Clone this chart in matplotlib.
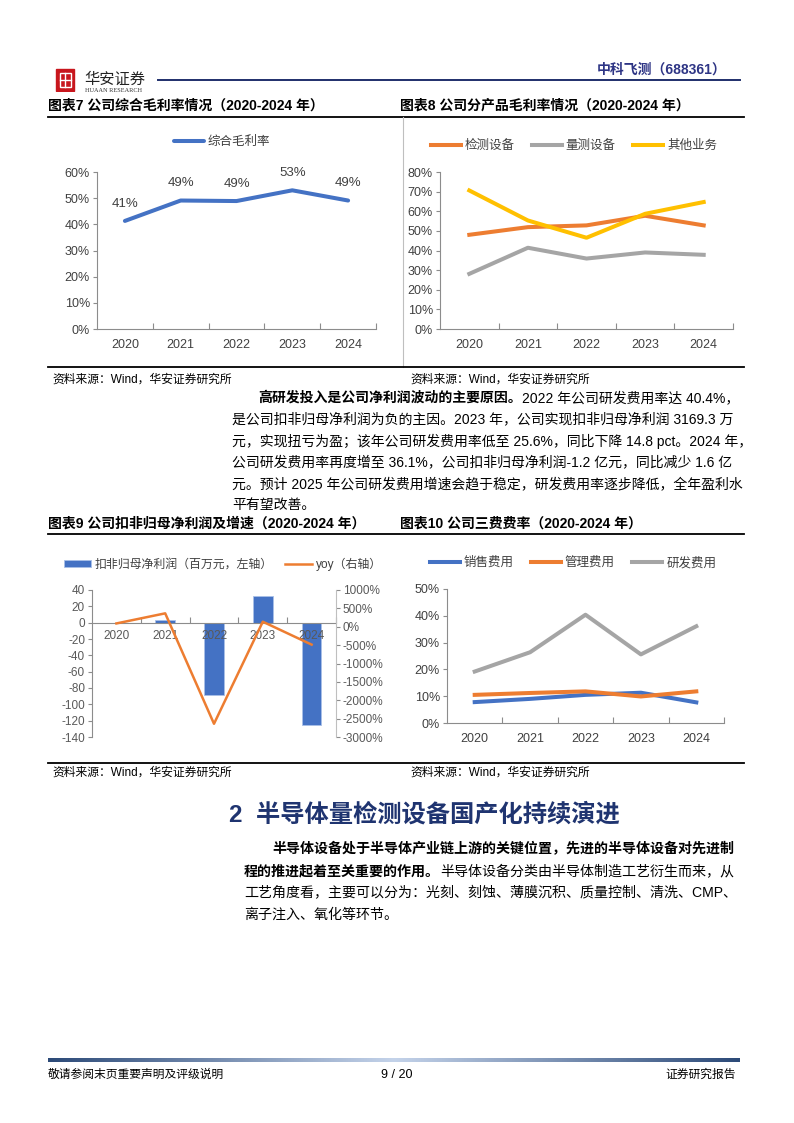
import numpy as np
import matplotlib
matplotlib.use('Agg')
import matplotlib.pyplot as plt
from matplotlib.colors import LinearSegmentedColormap
from matplotlib.patches import Rectangle

plt.rcParams['font.family'] = ['Liberation Sans', 'Noto Sans CJK SC']
plt.rcParams['axes.unicode_minus'] = False

# ---- data ----
years = ['2020', '2021', '2022', '2023', '2024']
gross_margin = [0.413, 0.491, 0.489, 0.530, 0.491]
gross_labels = ['41%', '49%', '49%', '53%', '49%']

product_names = ['检测设备', '量测设备', '其他业务']
inspect_margin = [0.480, 0.519, 0.528, 0.577, 0.528]
metrology_margin = [0.281, 0.414, 0.359, 0.390, 0.378]
other_margin = [0.706, 0.553, 0.465, 0.587, 0.647]

net_profit = [-1.0, 3.0, -88.3, 32.3, -124.7]      # 百万元
net_profit_yoy = [90, 365, -2640, 137, -486]        # %
profit_ticks = [40, 20, 0, -20, -40, -60, -80, -100, -120, -140]
yoy_ticks = [1000, 500, 0, -500, -1000, -1500, -2000, -2500, -3000]

fee_names = ['销售费用', '管理费用', '研发费用']
sales_fee = [0.078, 0.090, 0.105, 0.113, 0.077]
admin_fee = [0.105, 0.112, 0.118, 0.099, 0.118]
rd_fee = [0.192, 0.264, 0.404, 0.256, 0.361]

BLUE, ORANGE, GRAY, GOLD = '#4472C4', '#ED7D31', '#A5A5A5', '#FFC000'
TXT = '#404040'
SPINE = '#8C8C8C'

W, H = 794, 1123
fig = plt.figure(figsize=(W / 100, H / 100), dpi=100)


def fx(x):
    return x / W


def fy(y):
    return 1 - y / H


def add_ax(l, t, r, b):
    return fig.add_axes([fx(l), fy(b), (r - l) / W, (b - t) / H])


def hline(x0, x1, y, color='black', lw=1.0):
    fig.add_artist(plt.Line2D([fx(x0), fx(x1)], [fy(y), fy(y)], color=color, lw=lw))


def vline(x, y0, y1, color='black', lw=1.0):
    fig.add_artist(plt.Line2D([fx(x), fx(x)], [fy(y0), fy(y1)], color=color, lw=lw))


def seg_text(x, y, parts, size=10):
    # parts: list of (text, bold)
    renderer = fig.canvas.get_renderer()
    for s, bold in parts:
        t = fig.text(fx(x), fy(y), s, fontsize=size, va='center', ha='left',
                     fontweight='bold' if bold else 'normal', color='black')
        x = t.get_window_extent(renderer).x1


def style_cat_axis(ax, size=9):
    n = len(years)
    ax.set_xlim(-0.5, n - 0.5)
    ax.set_xticks(np.arange(n) + 0.5)
    ax.set_xticklabels([])
    ax.set_xticks(np.arange(n), minor=True)
    ax.set_xticklabels(years, minor=True, fontsize=size, color=TXT)
    ax.tick_params(axis='x', which='major', direction='in', length=4, color=SPINE)
    ax.tick_params(axis='x', which='minor', length=0, pad=7)
    ax.tick_params(axis='y', length=3, color=SPINE, labelsize=size, labelcolor=TXT, pad=2)
    for s in ['top', 'right']:
        ax.spines[s].set_visible(False)
    for s in ['left', 'bottom']:
        ax.spines[s].set_color(SPINE)


def pct_axis(ax, top, step):
    ticks = np.arange(0, top + 0.001, step)
    ax.set_ylim(0, top)
    ax.set_yticks(ticks)
    ax.set_yticklabels([f'{round(v * 100)}%' for v in ticks])


# ---- header ----
logo = add_ax(54, 68, 76, 92)
logo.set_axis_off()
logo.set_xlim(0, 1)
logo.set_ylim(0, 1)
logo.add_patch(Rectangle((0.1, 0.05), 0.8, 0.9, color='#C8161D'))
logo.add_patch(Rectangle((0.25, 0.2), 0.5, 0.6, fill=False, ec='white', lw=1))
logo.plot([0.5, 0.5], [0.2, 0.8], color='white', lw=1)
logo.plot([0.25, 0.75], [0.5, 0.5], color='white', lw=1)
fig.text(fx(84), fy(80), '华安证券', fontsize=11, va='center', color='#222222')
fig.text(fx(85), fy(91), 'HUAAN RESEARCH', fontsize=4.5, va='center', family='Liberation Serif', color='#333333')
hline(158, 740, 80, color='#1F2F6B', lw=1.4)
fig.text(fx(727), fy(70), '中科飞测（688361）', fontsize=10, fontweight='bold', ha='right', va='center',
         color='#2E3585')

# ---- section titles of charts 7/8 ----
fig.text(fx(48), fy(106), '图表7 公司综合毛利率情况（2020-2024 年）', fontsize=10, fontweight='bold', va='center')
fig.text(fx(400), fy(106), '图表8 公司分产品毛利率情况（2020-2024 年）', fontsize=10, fontweight='bold', va='center')
hline(48, 744, 117, lw=1.3)
vline(403, 117, 367, color='#BFBFBF', lw=0.8)
hline(48, 744, 367, lw=1.3)

# ---- chart 7 ----
ax7 = add_ax(97, 172, 376, 329)
x = np.arange(len(years))
ax7.plot(x, gross_margin, color=BLUE, lw=2.9, solid_capstyle='round', label='综合毛利率')
for xi, v, lab in zip(x, gross_margin, gross_labels):
    ax7.annotate(lab, (xi, v), xytext=(0, 8), textcoords='offset points', ha='center', va='bottom',
                 fontsize=9.5, color=TXT)
pct_axis(ax7, 0.6, 0.1)
style_cat_axis(ax7)
ax7.legend(loc='center', bbox_to_anchor=(fx(222), fy(142)), bbox_transform=fig.transFigure,
           frameon=False, fontsize=9, handlelength=2.4, labelcolor=TXT, handletextpad=0.3)

# ---- chart 8 ----
ax8 = add_ax(440, 172, 733, 329)
ax8.plot(x, inspect_margin, color=ORANGE, lw=2.9, label=product_names[0])
ax8.plot(x, metrology_margin, color=GRAY, lw=2.9, label=product_names[1])
ax8.plot(x, other_margin, color=GOLD, lw=2.9, label=product_names[2])
pct_axis(ax8, 0.8, 0.1)
style_cat_axis(ax8)
ax8.legend(loc='center', bbox_to_anchor=(fx(574), fy(146)), bbox_transform=fig.transFigure, ncol=3,
           frameon=False, fontsize=9, handlelength=2.4, labelcolor=TXT, handletextpad=0.3,
           columnspacing=1.4)

fig.text(fx(52), fy(380), '资料来源：Wind，华安证券研究所', fontsize=8.5, va='center')
fig.text(fx(410), fy(380), '资料来源：Wind，华安证券研究所', fontsize=8.5, va='center')

# ---- paragraph 1 ----
para1 = [
    (258, [('高研发投入是公司净利润波动的主要原因。', True), ('2022 年公司研发费用率达 40.4%，', False)]),
    (232, [('是公司扣非归母净利润为负的主因。2023 年，公司实现扣非归母净利润 3169.3 万', False)]),
    (232, [('元，实现扭亏为盈；该年公司研发费用率低至 25.6%，同比下降 14.8 pct。2024 年，', False)]),
    (232, [('公司研发费用率再度增至 36.1%，公司扣非归母净利润-1.2 亿元，同比减少 1.6 亿', False)]),
    (232, [('元。预计 2025 年公司研发费用增速会趋于稳定，研发费用率逐步降低，全年盈利水', False)]),
    (232, [('平有望改善。', False)]),
]
for i, (x0, parts) in enumerate(para1):
    seg_text(x0, 398 + i * 21.5, parts, size=10)

# ---- titles of charts 9/10 ----
fig.text(fx(48), fy(524), '图表9 公司扣非归母净利润及增速（2020-2024 年）', fontsize=10, fontweight='bold', va='center')
fig.text(fx(400), fy(524), '图表10 公司三费费率（2020-2024 年）', fontsize=10, fontweight='bold', va='center')
hline(48, 744, 534, lw=1.3)
hline(48, 744, 763, lw=1.3)

# ---- chart 9 ----
ax9 = add_ax(92, 590, 336, 737)
ax9.bar(x, net_profit, width=0.4, color=BLUE, edgecolor='#A9C0E8', lw=0.6,
        label='扣非归母净利润（百万元，左轴）')
ax9.set_ylim(-140, 40)
ax9.set_yticks(profit_ticks)
ax9.set_yticklabels([str(v) for v in profit_ticks])
style_cat_axis(ax9, size=8.5)
ax9.spines['bottom'].set_position(('data', 0))
ax9.tick_params(axis='x', which='minor', pad=5)
ax9.tick_params(axis='y', labelcolor='#595959')
ax9.set_xticklabels(years, minor=True, fontsize=8.5, color='#595959')
ax9b = ax9.twinx()
ax9b.plot(x, net_profit_yoy, color=ORANGE, lw=1.8, label='yoy（右轴）')
ax9b.set_ylim(-3000, 1000)
ax9b.set_yticks(yoy_ticks)
ax9b.set_yticklabels([f'{v}%' for v in yoy_ticks])
ax9b.tick_params(axis='y', length=3, color=SPINE, labelsize=8.5, labelcolor='#595959', pad=2)
for s in ['top', 'left', 'bottom']:
    ax9b.spines[s].set_visible(False)
ax9b.spines['right'].set_color('#BFBFBF')
h1, l1 = ax9.get_legend_handles_labels()
h2, l2 = ax9b.get_legend_handles_labels()
ax9b.legend(h1 + h2, l1 + l2, loc='center', bbox_to_anchor=(fx(223), fy(564)),
            bbox_transform=fig.transFigure, ncol=2, frameon=False, fontsize=8.6, handlelength=2.3,
            handleheight=0.45, labelcolor=TXT, handletextpad=0.3, columnspacing=1.0)

# ---- chart 10 ----
ax10 = add_ax(447, 589, 724, 723)
ax10.plot(x, sales_fee, color=BLUE, lw=2.9, label=fee_names[0])
ax10.plot(x, admin_fee, color=ORANGE, lw=2.9, label=fee_names[1])
ax10.plot(x, rd_fee, color=GRAY, lw=2.9, label=fee_names[2])
pct_axis(ax10, 0.5, 0.1)
style_cat_axis(ax10)
ax10.legend(loc='center', bbox_to_anchor=(fx(573), fy(563)), bbox_transform=fig.transFigure, ncol=3,
            frameon=False, fontsize=9, handlelength=2.4, labelcolor=TXT, handletextpad=0.3,
            columnspacing=1.4)

fig.text(fx(52), fy(773), '资料来源：Wind，华安证券研究所', fontsize=8.5, va='center')
fig.text(fx(410), fy(773), '资料来源：Wind，华安证券研究所', fontsize=8.5, va='center')

# ---- section 2 ----
fig.text(fx(229), fy(815), '2  半导体量检测设备国产化持续演进', fontsize=17.5, fontweight='bold',
         va='center', color='#1F3470')
para2 = [
    (272, [('半导体设备处于半导体产业链上游的关键位置，先进的半导体设备对先进制', True)]),
    (244, [('程的推进起着至关重要的作用。', True), ('半导体设备分类由半导体制造工艺衍生而来，从', False)]),
    (244, [('工艺角度看，主要可以分为：光刻、刻蚀、薄膜沉积、质量控制、清洗、CMP、', False)]),
    (244, [('离子注入、氧化等环节。', False)]),
]
for i, (x0, parts) in enumerate(para2):
    seg_text(x0, 849 + i * 22, parts, size=10.1)

# ---- footer ----
axf = add_ax(48, 1058, 740, 1062)
axf.set_axis_off()
grad = LinearSegmentedColormap.from_list('g', ['#2C4A78', '#C4D3EA', '#2C4A78'])
axf.imshow(np.linspace(0, 1, 256)[None, :], aspect='auto', cmap=grad)
fig.text(fx(48), fy(1075), '敬请参阅末页重要声明及评级说明', fontsize=8.5, va='center')
fig.text(fx(397), fy(1075), '9 / 20', fontsize=9, va='center', ha='center')
fig.text(fx(736), fy(1075), '证券研究报告', fontsize=8.5, va='center', ha='right')

fig.savefig('out.png', dpi=100)
